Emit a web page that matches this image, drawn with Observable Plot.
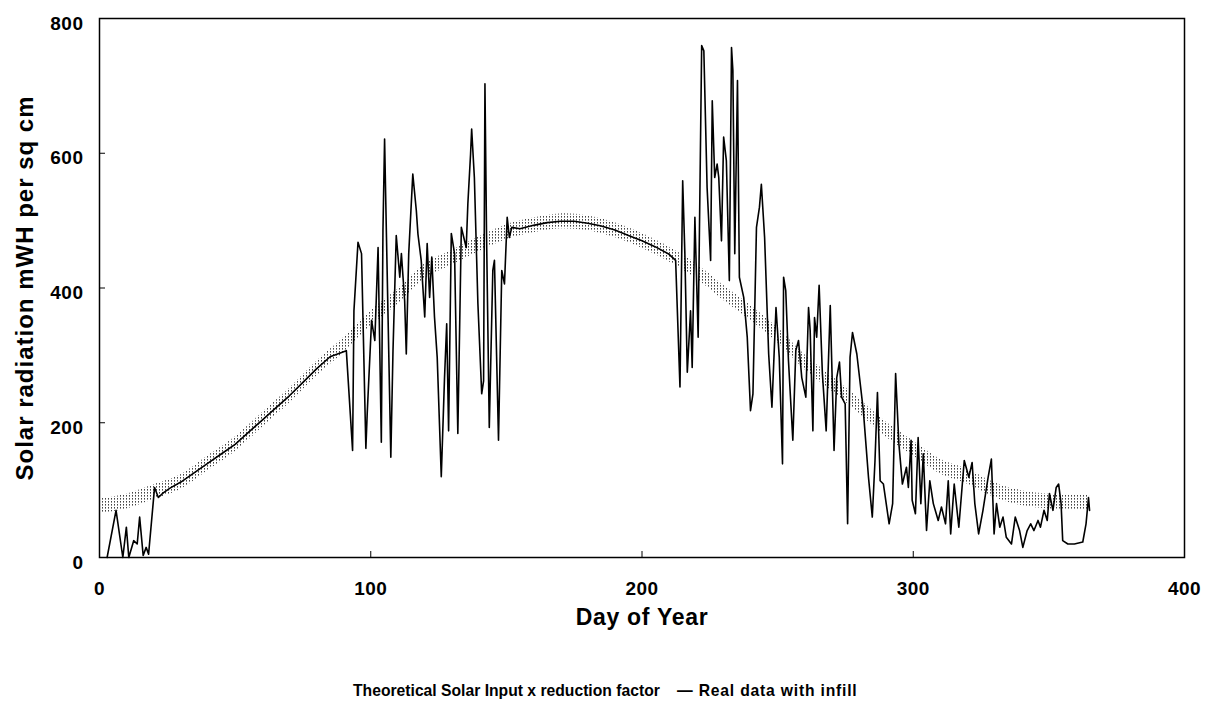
<!DOCTYPE html>
<html>
<head>
<meta charset="utf-8">
<script src="https://cdn.jsdelivr.net/npm/d3@7"></script>
<script src="https://cdn.jsdelivr.net/npm/@observablehq/plot@0.6"></script>
<style>
  html, body { margin: 0; padding: 0; background: #fff; }
  #chart svg { display: block; }
  #chart [aria-label="x-axis label"] text { font-size: 23px; letter-spacing: 0.7px; }
  #chart [aria-label="y-axis label"] text { font-size: 24px; letter-spacing: 1px; }
  #chart [aria-label="x-axis tick label"] text, #chart [aria-label="y-axis tick label"] text { letter-spacing: 0.5px; }
  #legend { position: relative; height: 68px; font-family: "Liberation Sans", Arial, sans-serif; font-weight: bold; font-size: 15.7px; color: #000; }
  #legend span { position: absolute; top: 42px; white-space: nowrap; }
</style>
</head>
<body>
<div id="chart"></div>
<div id="legend">
  <span id="lg1" style="left:353px">Theoretical Solar Input x reduction factor</span>
  <span id="lg2" style="left:677px; letter-spacing:0.8px">— Real data with infill</span>
</div>
<script>
// Theoretical Solar Input x reduction factor
const theoDay = [0,10,20,30,40,50,60,70,80,90,100,110,120,130,140,150,160,170,180,190,200,210,220,230,240,250,260,270,280,290,300,310,320,330,340,350,360,365];
const theoVal = [76,83,97,112,140,168,204,240,280,315,355,387,425,445,465,483,493,499,496,486,470,450,425,393,363,330,290,258,225,190,162,135,120,100,88,83,82,82];

// Real data with infill
const realDay = [2.8,6.1,8.6,9.9,10.8,12.6,13.9,14.8,16.1,17.2,18.1,20.3,21.7,23.5,
  26,30,35,40,45,50,55,60,65,70,75,80,85,91,
  93.3,93.8,95.3,96.6,98.2,98.7,100.3,101.5,102.7,103.9,104.5,105.1,105.8,107.4,108.2,109.4,110.7,111.3,112.5,113.1,114,115.5,116.8,117.4,118.6,119.9,120.8,121.7,122.5,123.5,124.5,126,127.2,128,128.7,129.7,130.9,132.1,133.4,134.3,135.2,135.8,136.8,137.2,138.2,139.5,140.9,141.6,142.1,142.7,143.7,145,145.6,147.1,148.3,149.3,150.3,151.1,152,
  155,160,165,170,175,180,185,190,195,200,205,210,212.4,
  214,215,215.8,216.7,217.9,218.5,219.5,220.7,222,222.8,224,225.3,225.9,226.8,227.7,228.3,229.3,230.1,231.1,232.2,233,233.5,234.2,235.2,235.9,237.5,238.8,240,240.9,242.2,243.3,244,245.2,246.7,247.9,249.4,250.6,
  251.8,252.2,253,254,255.6,256.7,257.7,258.9,260.4,261.4,262,263,263.6,264.4,265.3,266.5,267.9,269.4,270.8,271.8,272.8,273.6,274.9,275.8,276.7,277.6,279.2,281.6,283.5,284.9,285.9,286.8,287.8,289,291.1,292.4,293.5,294.7,296,297.5,298.2,
  299.2,299.6,300.8,301.8,302.8,303.7,304.9,306.1,307.4,309.2,310.4,311.9,312.9,313.8,315.1,316.8,318.8,320.5,321.7,322.7,324.1,325.7,327.6,328.8,329.8,330.7,331.9,333.1,334.3,336.2,337.6,339.2,340.4,342,343.3,344.5,346,346.9,348.2,349.4,350.2,351.5,352.7,353.6,354.5,355.1,357,359.4,362.5,363.7,364.6,365];
const realVal = [0,70,0,45,0,25,20,60,3,15,5,104,89,96,
  103,112,126,140,154,168,186,204,222,240,260,280,298,307,
  159,366,468,451,162,214,352,322,460,171,485,621,475,149,307,478,416,451,381,302,451,569,515,480,441,357,466,386,446,357,297,120,267,347,188,481,451,184,490,475,460,525,599,636,564,377,243,262,703,475,193,426,441,174,426,406,505,475,490,
  488,493,497,499,499,496,492,486,478,470,461,450,441,
  253,559,451,275,366,282,505,327,760,752,549,441,678,564,584,564,470,624,589,411,757,723,451,708,416,386,327,218,243,490,520,554,475,302,223,371,297,
  139,416,396,292,174,307,322,267,238,371,337,188,356,327,404,273,188,374,159,267,290,238,228,50,297,334,302,218,119,60,144,245,114,109,50,80,273,169,109,134,104,
  174,85,65,178,80,154,40,114,80,55,75,50,114,35,109,45,144,119,141,80,35,70,119,146,35,80,45,60,30,20,60,40,15,40,50,40,55,45,70,55,95,70,104,109,80,25,20,20,23,50,89,70];

const xTicks = [0, 100, 200, 300, 400];
const yTicks = [0, 200, 400, 600, 800];

const theo = theoDay.map((d, i) => ({day: d, v: theoVal[i]}));
const real = realDay.map((d, i) => ({day: d, v: realVal[i]}));

const font = "Liberation Sans, Arial, Helvetica, sans-serif";

const chart = Plot.plot({
  width: 1214,
  height: 640,
  marginLeft: 99,
  marginRight: 30,
  marginTop: 18,
  marginBottom: 83,
  style: {fontFamily: font, fontSize: "19px", color: "#000", background: "#fff"},
  x: {domain: [0, 400]},
  y: {domain: [0, 800]},
  marks: [
    Plot.areaY(theo, {x: "day", y1: d => d.v - 11, y2: d => d.v + 11, curve: "catmull-rom", fill: "url(#dotband)"}),
    Plot.line(real, {x: "day", y: "v", stroke: "#000", strokeWidth: 1.6, strokeLinejoin: "round"}),
    Plot.frame({stroke: "#000", strokeWidth: 1.5}),
    Plot.axisX({ticks: xTicks, tickSize: -6, tickFormat: () => "", label: null}),
    Plot.axisX({ticks: xTicks, tickSize: 0, tickPadding: 24, fontWeight: "bold", fontSize: 19,
      label: "Day of Year", labelAnchor: "center", labelArrow: "none", labelOffset: 67}),
    Plot.axisY({ticks: yTicks, tickSize: -6, tickFormat: () => "", label: null}),
    Plot.axisY({ticks: yTicks, tickSize: 0, tickPadding: 16, dy: 5, fontWeight: "bold", fontSize: 19,
      label: "Solar radiation mWH per sq cm", labelAnchor: "center", labelArrow: "none", labelOffset: 84})
  ]
});

// dotted texture for the theoretical band
const ns = "http://www.w3.org/2000/svg";
const defs = document.createElementNS(ns, "defs");
const pat = document.createElementNS(ns, "pattern");
pat.setAttribute("id", "dotband");
pat.setAttribute("width", "3");
pat.setAttribute("height", "3");
pat.setAttribute("patternUnits", "userSpaceOnUse");
const dot = document.createElementNS(ns, "rect");
dot.setAttribute("width", "1");
dot.setAttribute("height", "1.6");
dot.setAttribute("fill", "#444");
pat.appendChild(dot);
defs.appendChild(pat);
chart.insertBefore(defs, chart.firstChild);

document.getElementById("chart").appendChild(chart);
</script>
</body>
</html>
